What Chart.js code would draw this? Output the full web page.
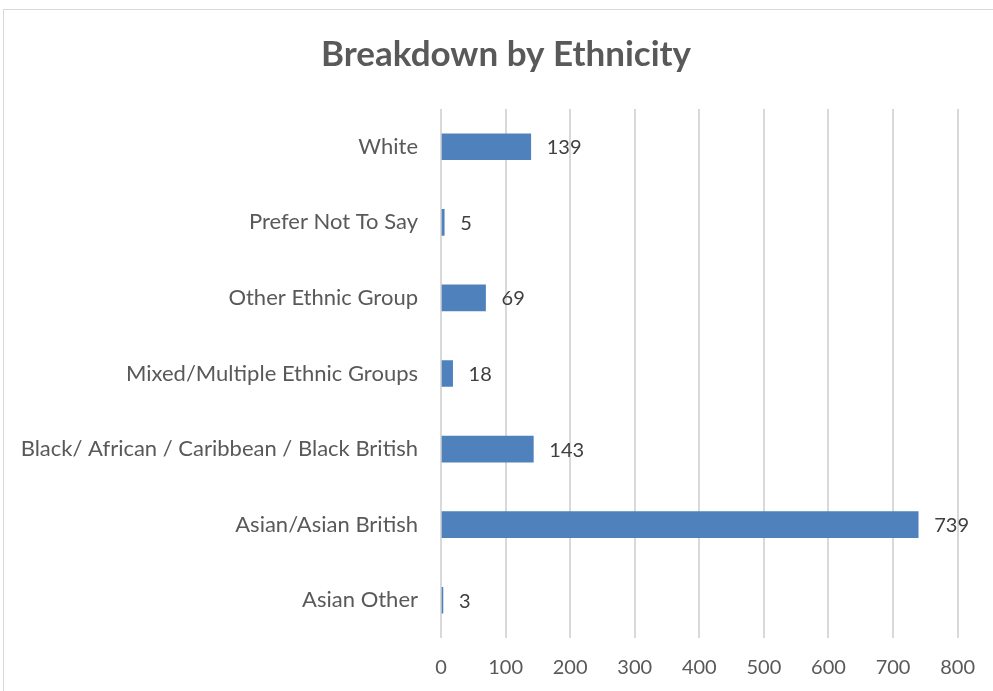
<!DOCTYPE html>
<html lang="en">
<head>
    <meta charset="UTF-8">
    <title>Breakdown by Ethnicity</title>
    <script src="https://cdn.jsdelivr.net/npm/chart.js"></script>
    <style>
        html, body { margin: 0; padding: 0; background: #fff; overflow: hidden; }
        #frame { position: absolute; left: 3px; top: 9px; width: 1005px; height: 710px; border: 1px solid #d9d9d9; }
        #wrap { position: absolute; left: 0; top: 0; width: 993px; height: 691px; }
    </style>
</head>
<body>
    <div id="frame"></div>
    <div id="wrap"><canvas id="ethnicityChart"></canvas></div>
    <script>
        const chartTitle = 'Breakdown by Ethnicity';
        const categories = [
            'White',
            'Prefer Not To Say',
            'Other Ethnic Group',
            'Mixed/Multiple Ethnic Groups',
            'Black/ African / Caribbean / Black British',
            'Asian/Asian British',
            'Asian Other'
        ];
        const counts = [139, 5, 69, 18, 143, 739, 3];

        const fontFamily = 'Lato, "Noto Sans", sans-serif';

        // title is centred on the outer frame, not on the canvas, so draw it here
        const frameTitle = {
            id: 'frameTitle',
            afterDraw(chart) {
                const ctx = chart.ctx;
                ctx.save();
                ctx.font = 'bold 35px ' + fontFamily;
                ctx.fillStyle = '#595959';
                ctx.textAlign = 'center';
                ctx.textBaseline = 'middle';
                ctx.fillText(chartTitle, 506, 55);
                ctx.restore();
            }
        };

        // draws the value next to the end of each bar
        const valueLabels = {
            id: 'valueLabels',
            afterDatasetsDraw(chart) {
                const ctx = chart.ctx;
                const meta = chart.getDatasetMeta(0);
                ctx.save();
                ctx.font = '20px ' + fontFamily;
                ctx.fillStyle = '#404040';
                ctx.textAlign = 'left';
                ctx.textBaseline = 'middle';
                meta.data.forEach((bar, i) => {
                    ctx.fillText(String(counts[i]), bar.x + 16, bar.y + 1);
                });
                ctx.restore();
            }
        };

        const ctx = document.getElementById('ethnicityChart').getContext('2d');
        new Chart(ctx, {
            type: 'bar',
            data: {
                labels: categories,
                datasets: [{
                    label: 'Count',
                    data: counts,
                    backgroundColor: '#4f81bd',
                    barThickness: 26
                }]
            },
            options: {
                indexAxis: 'y',
                responsive: true,
                maintainAspectRatio: false,
                animation: false,
                layout: {
                    padding: { left: 0, right: 35, top: 109, bottom: 0 }
                },
                scales: {
                    x: {
                        min: 0,
                        max: 800,
                        ticks: {
                            stepSize: 100,
                            padding: 18,
                            color: '#595959',
                            font: { family: fontFamily, size: 20 }
                        },
                        grid: {
                            color: '#d9d9d9',
                            lineWidth: 2,
                            drawTicks: false
                        },
                        border: { display: false },
                        afterFit: function(scale) {
                            scale.height = 53;
                        }
                    },
                    y: {
                        ticks: {
                            padding: 23,
                            color: '#595959',
                            font: { family: fontFamily, size: 22 }
                        },
                        grid: { display: false, drawTicks: false },
                        border: { display: false },
                        afterFit: function(scale) {
                            scale.width = 441;
                        }
                    }
                },
                plugins: {
                    legend: { display: false },
                    tooltip: { enabled: false },
                    title: { display: false }
                }
            },
            plugins: [valueLabels, frameTitle]
        });
    </script>
</body>
</html>
